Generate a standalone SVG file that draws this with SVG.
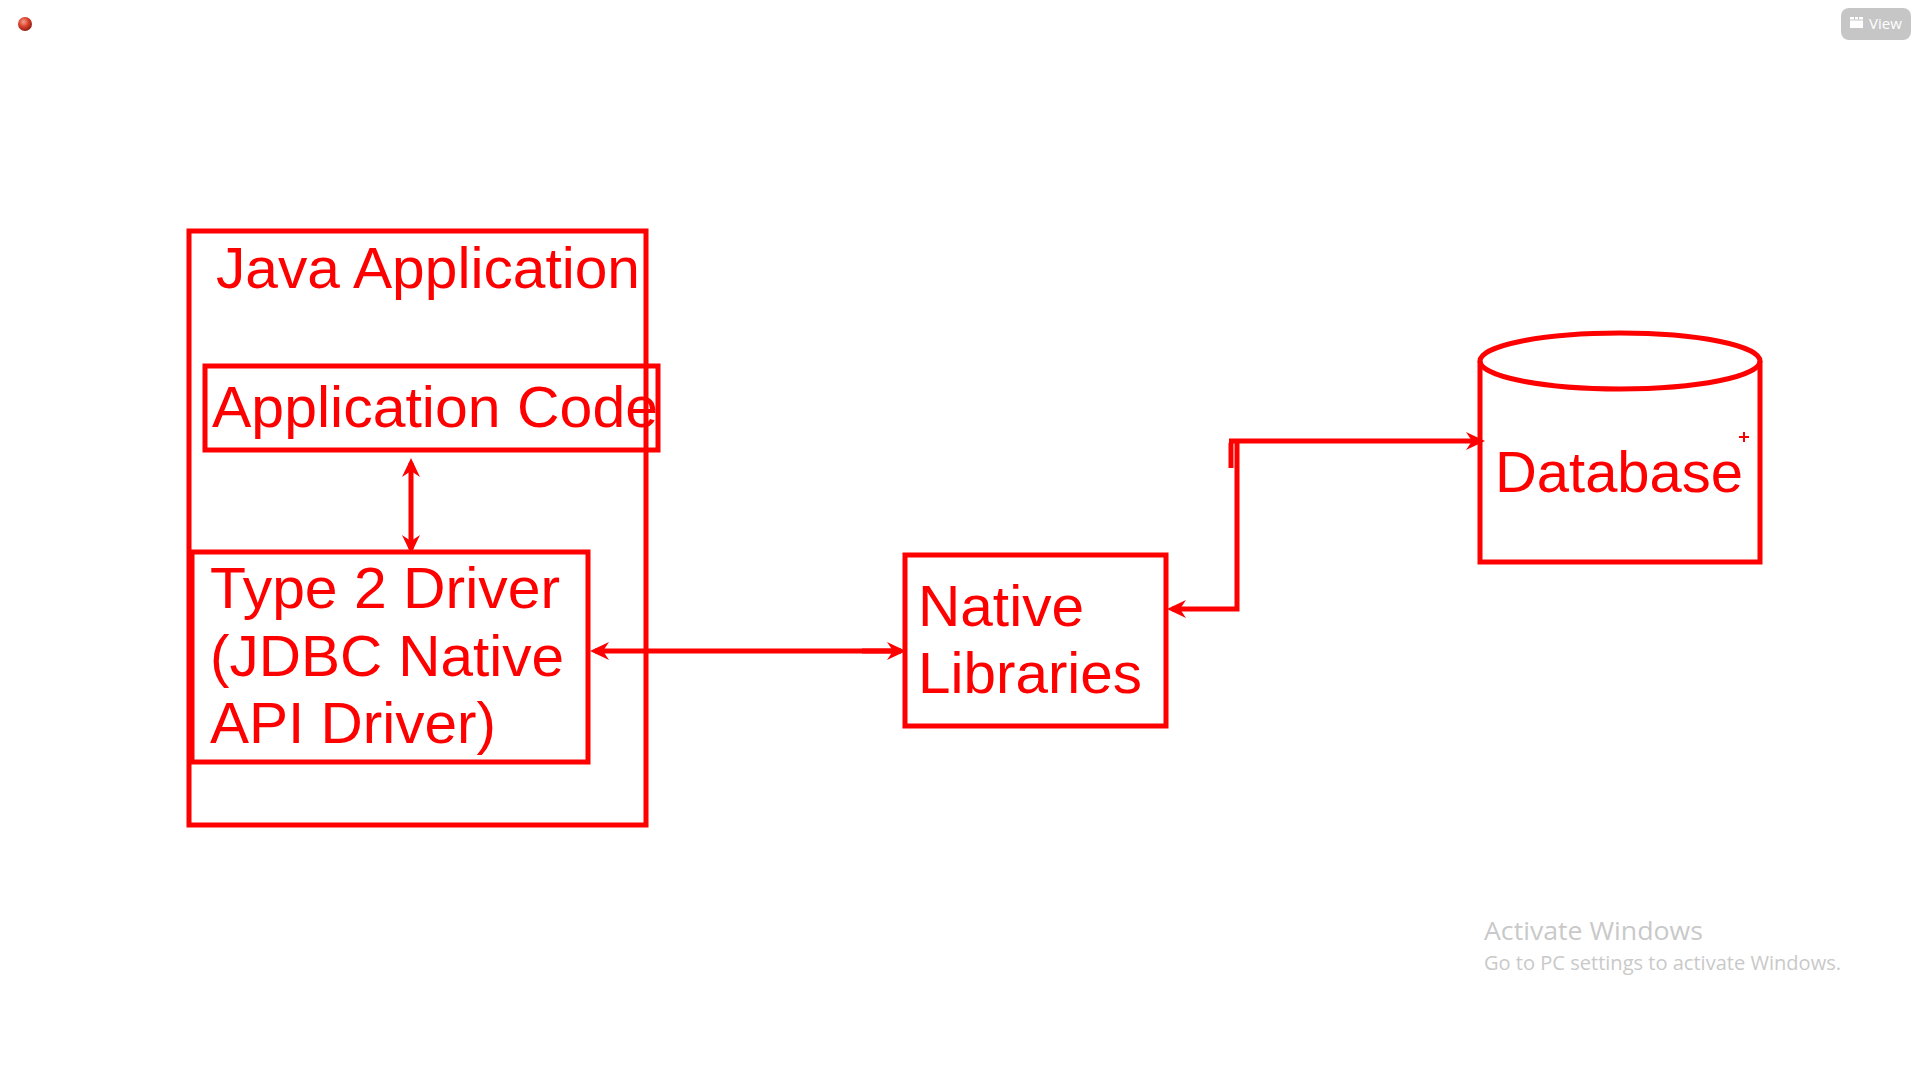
<svg xmlns="http://www.w3.org/2000/svg" width="1920" height="1080" viewBox="0 0 1920 1080">
<style>
.box{fill:none;stroke:#ff0000;stroke-width:5}
.lbl{font-family:"Liberation Sans",Arial,sans-serif;fill:#ff0000;font-size:58px}
.con{fill:none;stroke:#ff0000;stroke-width:5}
.wm{font-family:"Open Sans","Noto Sans",sans-serif;fill:#c9c9c9}
</style>
<defs>
<marker id="ah" markerUnits="userSpaceOnUse" viewBox="0 0 20 20" refX="14" refY="10" markerWidth="20" markerHeight="20" orient="auto-start-reverse">
<path d="M0,1 L19,10 L0,19 L6,10 z" fill="#ff0000"/>
</marker>
<radialGradient id="ball" cx="0.4" cy="0.35" r="0.7">
<stop offset="0" stop-color="#f7a08a"/>
<stop offset="0.5" stop-color="#d8402c"/>
<stop offset="1" stop-color="#8a1a10"/>
</radialGradient>
</defs>
<rect width="1920" height="1080" fill="#ffffff"/>
<circle cx="25" cy="24" r="7" fill="url(#ball)"/>
<g id="view-button">
<rect x="1841" y="8" width="70" height="32" rx="8" fill="#c6c6c6"/>
<rect x="1850" y="17" width="13" height="11" fill="#ffffff"/>
<line x1="1850" y1="20" x2="1863" y2="20" stroke="#c6c6c6" stroke-width="1"/>
<line x1="1854.5" y1="17" x2="1854.5" y2="20" stroke="#c6c6c6" stroke-width="1"/>
<line x1="1858.5" y1="17" x2="1858.5" y2="20" stroke="#c6c6c6" stroke-width="1"/>
<text x="1869" y="29" font-family="'Open Sans','Noto Sans',sans-serif" font-size="15" fill="#ffffff">View</text>
</g>
<g id="java-application">
<rect class="box" x="189" y="231" width="457" height="594"/>
<text class="lbl" x="216" y="288" textLength="424" lengthAdjust="spacingAndGlyphs">Java Application</text>
</g>
<g id="application-code">
<rect class="box" x="205" y="366" width="453" height="84"/>
<text class="lbl" x="212" y="427" textLength="446" lengthAdjust="spacingAndGlyphs">Application Code</text>
</g>
<g id="type2-driver">
<rect class="box" x="192" y="552" width="396" height="210"/>
<text class="lbl" x="210" y="608" textLength="350" lengthAdjust="spacingAndGlyphs">Type 2 Driver</text>
<text class="lbl" x="210" y="676" textLength="354" lengthAdjust="spacingAndGlyphs">(JDBC Native</text>
<text class="lbl" x="210" y="743" textLength="286" lengthAdjust="spacingAndGlyphs">API Driver)</text>
</g>
<g id="native-libraries">
<rect class="box" x="905" y="555" width="261" height="171"/>
<text class="lbl" x="918" y="626" textLength="166" lengthAdjust="spacingAndGlyphs">Native</text>
<text class="lbl" x="918" y="693" textLength="224" lengthAdjust="spacingAndGlyphs">Libraries</text>
</g>
<g id="database">
<path class="box" d="M1480,361 V562 H1760 V361"/>
<ellipse class="box" cx="1620" cy="361" rx="140" ry="28"/>
<text class="lbl" x="1495" y="492" textLength="248" lengthAdjust="spacingAndGlyphs">Database</text>
</g>
<g id="connectors">
<path class="con" d="M411,463 V549" marker-start="url(#ah)" marker-end="url(#ah)"/>
<path class="con" d="M595,651 H901" marker-start="url(#ah)" marker-end="url(#ah)"/>
<path class="con" d="M862,651 H898" stroke-width="8"/>
<path class="con" d="M1237,443 V609 H1172" marker-end="url(#ah)"/>
<path class="con" d="M1229,441 H1480" marker-end="url(#ah)"/>
<path class="con" d="M1231,443 V468"/>
</g>
<g id="cursor" stroke="#ff0000" stroke-width="2">
<line x1="1739" y1="437" x2="1749" y2="437"/>
<line x1="1744" y1="432" x2="1744" y2="442"/>
</g>
<text class="wm" x="1484" y="940" font-size="25" textLength="219" lengthAdjust="spacingAndGlyphs">Activate Windows</text>
<text class="wm" x="1484" y="970" font-size="20" textLength="357" lengthAdjust="spacingAndGlyphs">Go to PC settings to activate Windows.</text>
</svg>
